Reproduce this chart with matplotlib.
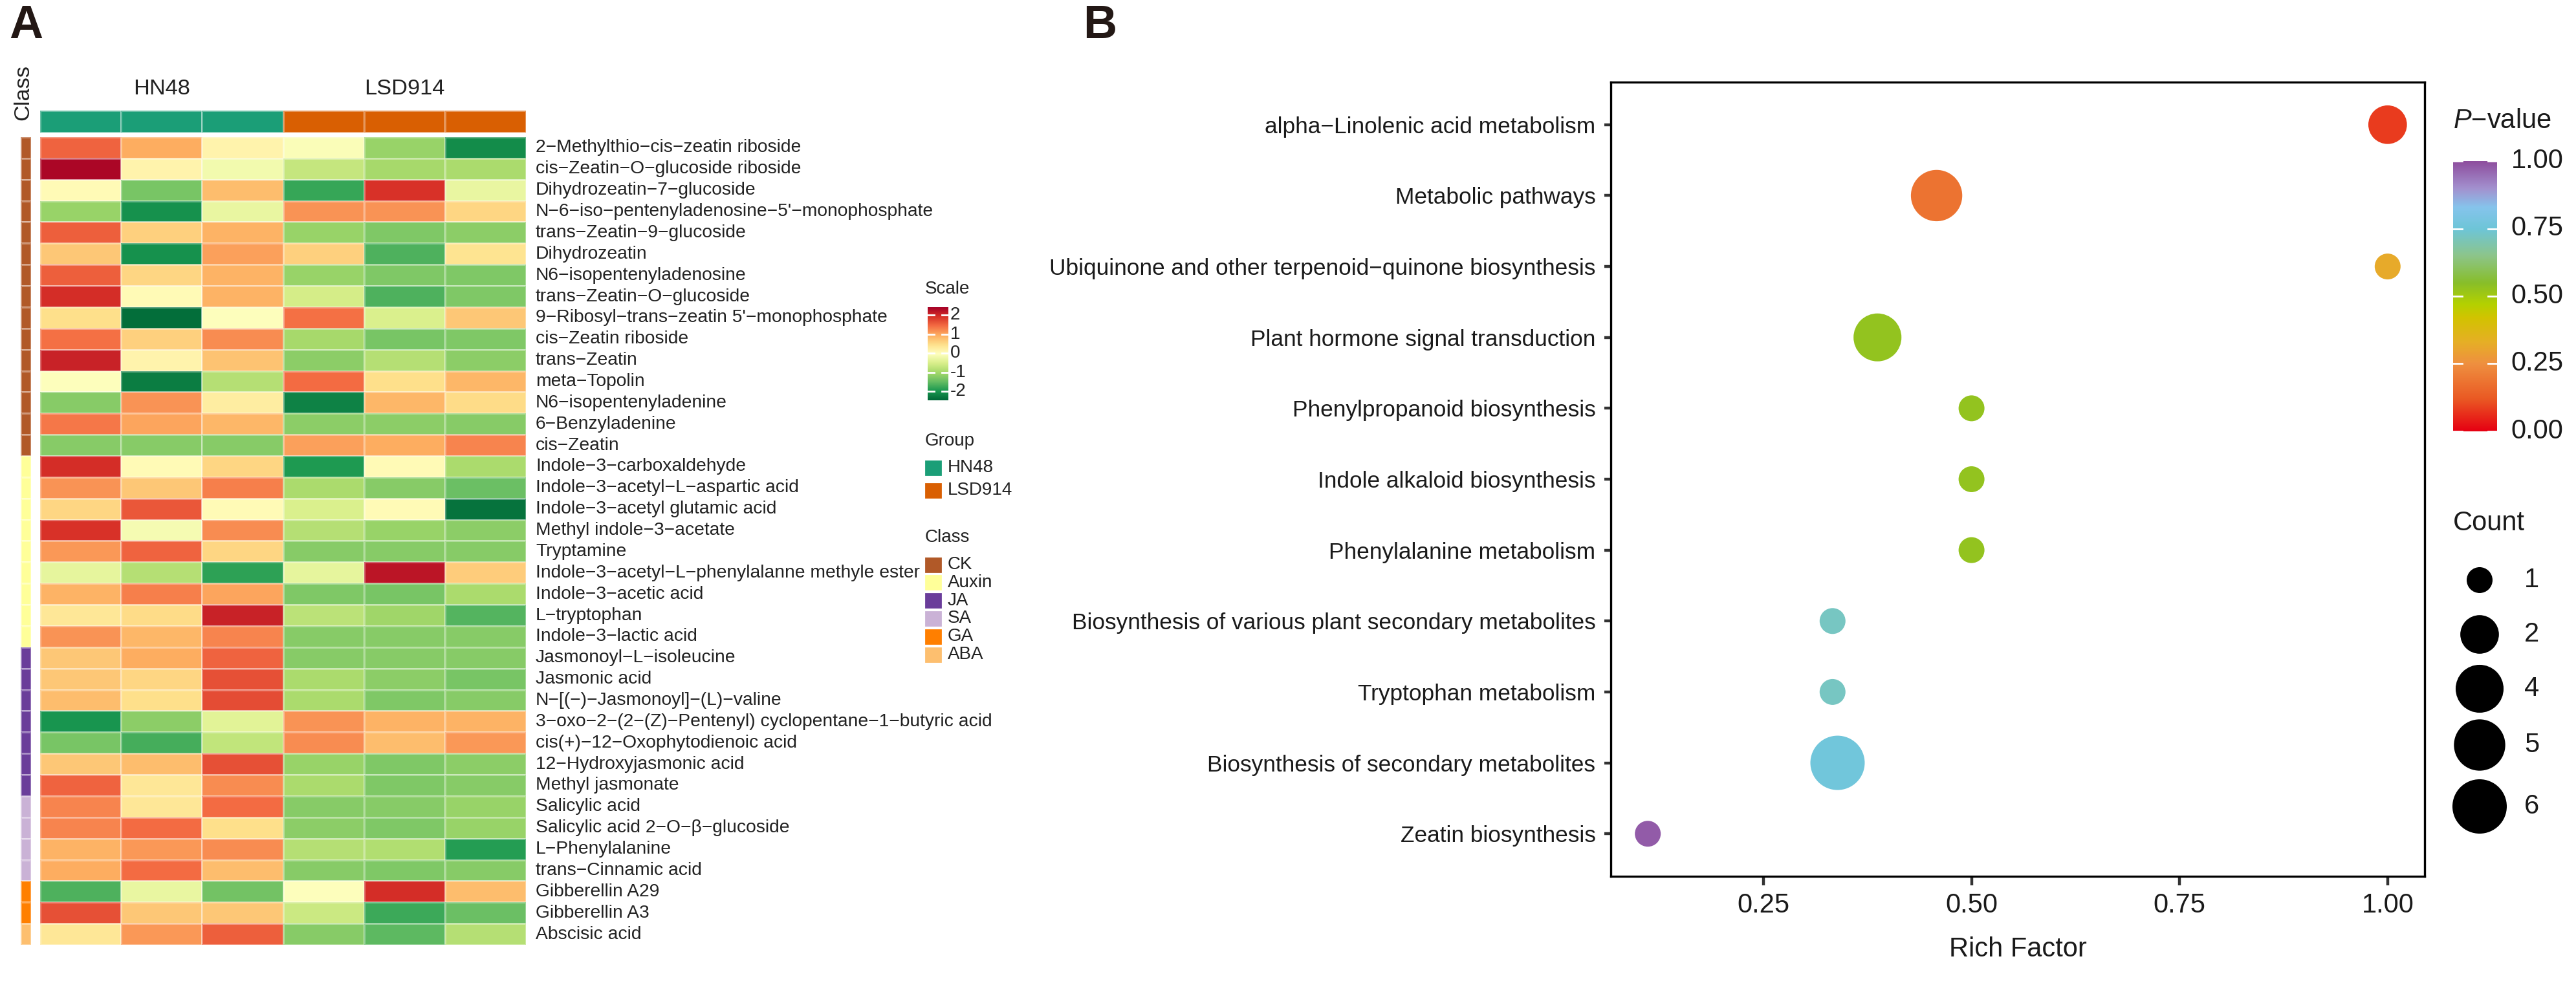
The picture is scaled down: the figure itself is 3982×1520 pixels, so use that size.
import numpy as np
import matplotlib.pyplot as plt
from matplotlib.colors import ListedColormap, LinearSegmentedColormap
from matplotlib.patches import Rectangle

plt.rcParams['font.family'] = ['Liberation Sans', 'DejaVu Sans']
plt.rcParams['mathtext.fontset'] = 'custom'
plt.rcParams['mathtext.it'] = 'Liberation Sans:italic'
plt.rcParams['mathtext.rm'] = 'Liberation Sans'

MINUS = '\u2212'

# ---------------- Panel A data ----------------
metabolites = [
    "2-Methylthio-cis-zeatin riboside", "cis-Zeatin-O-glucoside riboside",
    "Dihydrozeatin-7-glucoside", "N-6-iso-pentenyladenosine-5'-monophosphate",
    "trans-Zeatin-9-glucoside", "Dihydrozeatin", "N6-isopentenyladenosine",
    "trans-Zeatin-O-glucoside", "9-Ribosyl-trans-zeatin 5'-monophosphate",
    "cis-Zeatin riboside", "trans-Zeatin", "meta-Topolin", "N6-isopentenyladenine",
    "6-Benzyladenine", "cis-Zeatin",
    "Indole-3-carboxaldehyde", "Indole-3-acetyl-L-aspartic acid",
    "Indole-3-acetyl glutamic acid", "Methyl indole-3-acetate", "Tryptamine",
    "Indole-3-acetyl-L-phenylalanne methyle ester", "Indole-3-acetic acid",
    "L-tryptophan", "Indole-3-lactic acid",
    "Jasmonoyl-L-isoleucine", "Jasmonic acid", "N-[(-)-Jasmonoyl]-(L)-valine",
    "3-oxo-2-(2-(Z)-Pentenyl) cyclopentane-1-butyric acid",
    "cis(+)-12-Oxophytodienoic acid", "12-Hydroxyjasmonic acid", "Methyl jasmonate",
    "Salicylic acid", "Salicylic acid 2-O-\u03b2-glucoside", "L-Phenylalanine",
    "trans-Cinnamic acid",
    "Gibberellin A29", "Gibberellin A3",
    "Abscisic acid",
]

groups = ["HN48", "LSD914"]
group_of_sample = [0, 0, 0, 1, 1, 1]
class_names = ["CK", "Auxin", "JA", "SA", "GA", "ABA"]
class_sizes = [15, 9, 7, 4, 2, 1]

# z-scores, columns: HN48 x3, LSD914 x3
zscores = np.array([
    [1.5, 0.95, 0.15, -0.1, -1.1, -2.1],
    [2.35, 0.15, -0.2, -0.7, -1.0, -0.95],
    [0.05, -1.35, 0.8, -1.8, 1.9, -0.3],
    [-1.1, -2.05, -0.3, 1.15, 1.15, 0.55],
    [1.55, 0.6, 0.9, -1.1, -1.3, -1.2],
    [0.7, -2.05, 1.05, 0.6, -1.65, 0.4],
    [1.55, 0.55, 0.9, -1.1, -1.3, -1.3],
    [1.95, 0.05, 0.9, -0.55, -1.65, -1.3],
    [0.45, -2.4, -0.05, 1.4, -0.5, 0.7],
    [1.4, 0.6, 1.2, -1.0, -1.35, -1.3],
    [2.05, 0.15, 0.75, -1.2, -0.85, -1.2],
    [-0.05, -2.25, -0.85, 1.45, 0.45, 0.85],
    [-1.25, 1.15, 0.25, -2.2, 0.85, 0.5],
    [1.35, 1.0, 0.85, -1.2, -1.2, -1.25],
    [-1.25, -1.25, -1.25, 1.05, 0.95, 1.25],
    [1.95, 0.05, 0.55, -1.95, 0.05, -0.95],
    [1.15, 0.7, 1.3, -0.95, -1.25, -1.45],
    [0.55, 1.6, 0.05, -0.5, 0.05, -2.35],
    [1.9, -0.15, 1.2, -0.85, -1.1, -1.2],
    [1.1, 1.5, 0.55, -1.25, -1.25, -1.25],
    [-0.35, -0.85, -1.85, -0.35, 2.2, 0.65],
    [0.9, 1.3, 1.0, -1.3, -1.35, -0.95],
    [0.35, 0.5, 2.05, -0.8, -1.05, -1.6],
    [1.15, 0.85, 1.25, -1.25, -1.25, -1.25],
    [0.7, 0.95, 1.5, -1.25, -1.25, -1.25],
    [0.7, 0.55, 1.65, -0.95, -1.2, -1.35],
    [0.8, 0.45, 1.7, -0.95, -1.3, -1.25],
    [-2.0, -1.2, -0.4, 1.15, 0.9, 0.9],
    [-1.35, -1.7, -0.75, 1.2, 0.8, 1.1],
    [0.7, 0.8, 1.65, -1.1, -1.3, -1.2],
    [1.5, 0.35, 1.2, -0.95, -1.3, -1.25],
    [1.25, 0.35, 1.45, -1.25, -1.25, -1.1],
    [1.25, 1.45, 0.45, -1.2, -1.3, -1.1],
    [0.9, 1.1, 1.2, -0.85, -0.9, -1.9],
    [0.95, 1.45, 0.8, -1.25, -1.3, -1.25],
    [-1.65, -0.3, -1.4, -0.05, 1.95, 0.8],
    [1.65, 0.7, 0.7, -0.65, -1.75, -1.45],
    [0.35, 1.1, 1.55, -1.25, -1.55, -0.85],
])
scale_ticks = [2, 1, 0, -1, -2]
SCALE_MIN, SCALE_MAX = -2.47, 2.41

# ---------------- Panel B data ----------------
pathways = [
    "alpha-Linolenic acid metabolism", "Metabolic pathways",
    "Ubiquinone and other terpenoid-quinone biosynthesis",
    "Plant hormone signal transduction", "Phenylpropanoid biosynthesis",
    "Indole alkaloid biosynthesis", "Phenylalanine metabolism",
    "Biosynthesis of various plant secondary metabolites",
    "Tryptophan metabolism", "Biosynthesis of secondary metabolites",
    "Zeatin biosynthesis",
]
rich_factor = [1.0, 0.458, 1.0, 0.387, 0.5, 0.5, 0.5, 0.333, 0.333, 0.339, 0.111]
counts = [2, 5, 1, 4, 1, 1, 1, 1, 1, 6, 1]
pvalues = [0.08, 0.18, 0.32, 0.53, 0.53, 0.53, 0.53, 0.72, 0.72, 0.76, 0.98]
count_breaks = [1, 2, 4, 5, 6]
p_ticks = [0.0, 0.25, 0.5, 0.75, 1.0]
x_ticks = [0.25, 0.5, 0.75, 1.0]

# ---------------- styling ----------------
W, H, DPI = 3982, 1520, 200
group_colors = ['#1B9E77', '#D95F02']
class_colors = ['#B15928', '#FFFF99', '#6A3D9A', '#CAB2D6', '#FF7F00', '#FDBF6F']
heat_cmap = plt.get_cmap('RdYlGn_r')
p_cmap = LinearSegmentedColormap.from_list('pval', [
    (0.0, '#E60012'), (0.12, '#EA5A24'), (0.25, '#EF9040'), (0.33, '#E6AF26'),
    (0.42, '#D2C300'), (0.47, '#B4D100'), (0.55, '#88BE2A'), (0.65, '#8DC58A'),
    (0.75, '#6EC6D8'), (0.83, '#86C4EC'), (0.9, '#A391CF'), (1.0, '#8E4E9E')])


def box(x0, y0, x1, y1):
    """pixel box (top-left origin) -> figure rect"""
    return [x0 / W, 1 - y1 / H, (x1 - x0) / W, (y1 - y0) / H]


def dot_size(c):
    # diameter in px, ggplot-like area scaling between 40 and 84 px
    d = 40 + 44 * np.sqrt((np.asarray(c, float) - 1) / 5)
    return (d * 72 / DPI) ** 2


fig = plt.figure(figsize=(W / DPI, H / DPI), dpi=DPI)

# overlay axes in pixel coordinates for free text / legends
ov = fig.add_axes([0, 0, 1, 1])
ov.set_xlim(0, W)
ov.set_ylim(H, 0)
ov.axis('off')

# ---------------- Panel A ----------------
HM_TOP, HM_BOT = 212, 1461
n_rows = len(metabolites)
row_h = (HM_BOT - HM_TOP) / n_rows
edge = (1, 1, 1, 0.35)

ax_h = fig.add_axes(box(62, HM_TOP, 813, HM_BOT))
ax_h.pcolormesh(zscores, cmap=heat_cmap, vmin=SCALE_MIN, vmax=SCALE_MAX,
                edgecolors=edge, linewidth=0.5)
ax_h.set_xlim(0, 6)
ax_h.set_ylim(n_rows, 0)
ax_h.axis('off')

for i, name in enumerate(metabolites):
    ov.text(828, HM_TOP + (i + 0.5) * row_h, name.replace('-', MINUS),
            fontsize=10.2, va='center', ha='left', color='#222222')

# class annotation bar
class_idx = np.repeat(np.arange(len(class_names)), class_sizes)
ax_c = fig.add_axes(box(32, HM_TOP, 48, HM_BOT))
ax_c.pcolormesh(class_idx[:, None], cmap=ListedColormap(class_colors),
                vmin=-0.5, vmax=len(class_names) - 0.5, edgecolors=edge, linewidth=0.5)
ax_c.set_ylim(n_rows, 0)
ax_c.axis('off')

# group annotation bar
ax_g = fig.add_axes(box(62, 171, 813, 205))
ax_g.pcolormesh(np.array([group_of_sample]), cmap=ListedColormap(group_colors),
                vmin=-0.5, vmax=1.5, edgecolors=edge, linewidth=0.5)
ax_g.axis('off')

ov.text(250, 137, groups[0], fontsize=12.4, ha='center', va='center', color='#222222')
ov.text(625, 137, groups[1], fontsize=12.4, ha='center', va='center', color='#222222')
ov.text(36, 143, 'Class', fontsize=12.4, rotation=90, ha='center', va='center',
        color='#222222')
ov.text(14, 40, 'A', fontsize=26, fontweight='bold', ha='left', va='center',
        color='#231815')

# scale colorbar
ax_s = fig.add_axes(box(1434, 475, 1466, 619))
ax_s.imshow(np.linspace(SCALE_MIN, SCALE_MAX, 256)[:, None], cmap=heat_cmap,
            vmin=SCALE_MIN, vmax=SCALE_MAX, aspect='auto', origin='lower',
            extent=[0, 1, SCALE_MIN, SCALE_MAX])
for t in scale_ticks:
    ax_s.plot([0, 0.3], [t, t], color='white', lw=1.0)
    ax_s.plot([0.7, 1], [t, t], color='white', lw=1.0)
    ax_s.text(1.08, t, str(t), transform=ax_s.get_yaxis_transform(),
              fontsize=10, va='center', ha='left', color='#222222')
ax_s.set_xlim(0, 1)
ax_s.set_ylim(SCALE_MIN, SCALE_MAX)
ax_s.axis('off')
ov.text(1430, 447, 'Scale', fontsize=10, va='center', ha='left', color='#222222')

# group legend
ov.text(1430, 682, 'Group', fontsize=10, va='center', ha='left', color='#222222')
for k, g in enumerate(groups):
    yc = 723 + k * 35
    ov.add_patch(Rectangle((1431, yc - 10.5), 23, 21, color=group_colors[k]))
    ov.text(1465, yc, g, fontsize=10, va='center', ha='left', color='#222222')

# class legend
ov.text(1430, 831, 'Class', fontsize=10, va='center', ha='left', color='#222222')
for k, c in enumerate(class_names):
    yc = 873 + k * 27.8
    ov.add_patch(Rectangle((1431, yc - 10.5), 23, 21, color=class_colors[k]))
    ov.text(1465, yc, c, fontsize=10, va='center', ha='left', color='#222222')

# ---------------- Panel B ----------------
ax_b = fig.add_axes(box(2490, 127, 3748, 1355))
ypos = np.arange(len(pathways))[::-1] + 1
ax_b.scatter(rich_factor, ypos, s=dot_size(counts), c=pvalues, cmap=p_cmap,
             vmin=0, vmax=1, edgecolors='none', zorder=3)
rng = max(rich_factor) - min(rich_factor)
ax_b.set_xlim(min(rich_factor) - 0.05 * rng, max(rich_factor) + 0.05 * rng)
ax_b.set_ylim(0.4, len(pathways) + 0.6)
ax_b.set_yticks(ypos)
ax_b.set_yticklabels([p.replace('-', MINUS) for p in pathways], fontsize=12.7,
                     color='#1A1A1A')
ax_b.set_xticks(x_ticks)
ax_b.set_xticklabels(['%.2f' % v for v in x_ticks], fontsize=15, color='#1A1A1A')
ax_b.tick_params(axis='y', length=3.5, width=1.6, color='#333333', pad=5)
ax_b.tick_params(axis='x', length=5, width=1.6, color='#333333', pad=4)
for sp in ax_b.spines.values():
    sp.set_linewidth(1.2)
    sp.set_color('black')
ax_b.set_xlabel('Rich Factor', fontsize=15, labelpad=10, color='#1A1A1A')
ov.text(1674, 40, 'B', fontsize=26, fontweight='bold', ha='left', va='center',
        color='#231815')

# P-value colorbar
ax_p = fig.add_axes(box(3792, 249, 3860, 667))
ax_p.imshow(np.linspace(0, 1, 256)[:, None], cmap=p_cmap, vmin=0, vmax=1,
            aspect='auto', origin='lower', extent=[0, 1, 0, 1])
for t in p_ticks:
    ax_p.plot([0, 0.2], [t, t], color='white', lw=1.0)
    ax_p.plot([0.8, 1], [t, t], color='white', lw=1.0)
    ax_p.text(1.32, t, '%.2f' % t, transform=ax_p.get_yaxis_transform(),
              fontsize=15, va='center', ha='left', color='#1A1A1A')
ax_p.set_xlim(0, 1)
ax_p.set_ylim(0, 1)
ax_p.axis('off')
ov.text(3792, 187, r'$\mathit{P}$' + MINUS + 'value', fontsize=15, va='center',
        ha='left', color='#1A1A1A')

# Count legend
ov.text(3792, 809, 'Count', fontsize=15, va='center', ha='left', color='#1A1A1A')
legend_y = [897, 981, 1065, 1152, 1247]
ov.scatter([3833] * len(count_breaks), legend_y, s=dot_size(count_breaks),
           color='black', edgecolors='none')
for c, yy in zip(count_breaks, legend_y):
    ov.text(3902, yy, str(c), fontsize=15, va='center', ha='left', color='#1A1A1A')

fig.savefig('out.png', dpi=DPI)
